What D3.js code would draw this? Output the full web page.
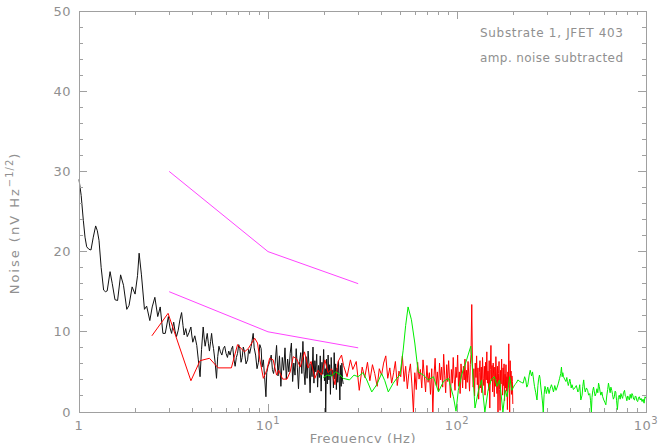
<!DOCTYPE html>
<html><head><meta charset="utf-8">
<script src="https://cdn.jsdelivr.net/npm/d3@7/dist/d3.min.js"></script>
<style>
html,body{margin:0;padding:0;background:#fff;overflow:hidden;}
svg{display:block;}
text{font-family:"DejaVu Sans",sans-serif;fill:#909090;}
</style></head>
<body>
<svg id="chart" width="658" height="443"></svg>
<script>
// ---------- data ----------
const xMajorTicks = [1, 10, 100, 1000];
const xTickExp = ["", "1", "2", "3"];
const yMajorTicks = [0, 10, 20, 30, 40, 50];

const annotation = ["Substrate 1, JFET 403", "amp. noise subtracted"];

// upper and lower reference lines (magenta)
const refUpper = [[3, 30], [10, 20], [30, 16]];
const refLower = [[3, 15], [10, 10], [30, 8]];

// black spectrum [frequency Hz, noise]
const blackData = [[1.0,29.0],[1.027,27.0],[1.054,23.9],[1.076,21.8],[1.098,20.6],[1.127,20.3],[1.157,20.2],[1.19,21.8],[1.225,23.2],[1.25,22.6],[1.276,21.4],[1.31,18.0],[1.35,15.2],[1.38,15.0],[1.41,15.1],[1.46,17.5],[1.5,16.0],[1.55,14.0],[1.60,13.9],[1.66,17.1],[1.72,15.8],[1.79,12.8],[1.84,13.3],[1.91,15.6],[1.98,14.7],[2.04,17.0],[2.08,19.8],[2.14,17.1],[2.22,12.8],[2.28,13.2],[2.37,11.4],[2.44,13.1],[2.52,14.3],[2.61,11.9],[2.69,13.1],[2.78,9.8],[2.86,9.8],
[2.97,11.9],[3.03,10.5],[3.09,9.8],[3.13,10.6],[3.17,11.2],[3.22,10.1],[3.28,9.4],[3.35,10.2],[3.42,11.5],[3.49,12.4],[3.55,10.8],[3.6,9.6],[3.67,10.4],[3.74,9.4],[3.82,9.9],[3.91,10.6],[3.95,9.6],[4.0,8.7],[4.1,9.5],[4.2,8.3],[4.28,6.5],[4.37,4.4],[4.45,7.8],[4.54,10.6],[4.6,9.1],[4.65,8.2],[4.71,9.0],[4.77,9.8],[4.84,8.5],[4.9,7.6],[4.97,8.8],[5.03,9.8],[5.09,8.6],[5.15,7.9],[5.25,6.2],[5.34,4.2],[5.42,6.9],[5.5,8.2],[5.6,7.5],[5.7,7.1],[5.8,7.9],[5.9,8.2],[6.0,7.3],[6.1,6.8],[6.2,7.6],[6.3,7.1],[6.4,7.8],[6.5,8.2],[6.6,6.6],[6.7,5.7],[6.8,6.8],[6.9,7.3],[7.0,8.4],[7.1,7.9],[7.2,6.2],[7.3,6.8],[7.4,8.1],[7.5,7.6],[7.65,6.0],[7.8,6.5],[7.9,7.8],[8.0,7.3],[8.15,8.2],[8.35,9.8],[8.45,8.0],[8.6,7.1],[8.75,5.4],[8.9,6.2],[9.05,8.4],[9.2,7.9],[9.3,5.6],[9.45,6.5],[9.6,4.3],[9.75,1.9],[9.85,4.9],[10.0,5.7],[10.2,6.2],[10.4,7.1],[10.55,5.3],[10.7,4.8],
[10.9,6.0],[11.1,8.3],[11.3,4.5],[11.5,7.0],[11.7,3.2],[11.9,6.8],[12.1,5.2],[12.3,8.0],[12.5,4.1],[12.7,6.6],[12.9,5.0],[13.1,7.3],[13.3,8.6],[13.5,3.8],[13.7,6.1],[13.9,4.6],[14.1,7.9],[14.3,5.5],[14.5,2.9],[14.7,6.3],[14.9,7.4],[15.1,4.8],[15.3,8.8],[15.5,5.1],[15.7,3.4],[15.9,6.9],[16.1,4.2],[16.3,7.6],[16.5,5.7],[16.7,2.4],[16.9,6.0],[17.1,4.4],[17.3,8.1],[17.5,3.6],[17.7,6.4],[17.9,5.0],[18.1,7.2],[18.3,3.1],[18.5,5.8],[18.7,4.3],[18.9,7.0],[19.1,2.6],[19.3,6.2],[19.5,4.7],[19.7,7.8],[19.9,3.9],[20.1,5.4],[20.2,0.0],[20.4,6.6],[20.6,3.5],[20.8,7.1],[21.0,4.0],[21.2,5.9],[21.4,2.2],[21.6,6.8],[21.8,4.5],[22.0,5.2],[22.2,3.0],[22.4,7.4],[22.6,4.1],[22.8,6.0],[23.0,2.8],[23.2,5.5],[23.4,3.7],[23.6,6.3],[23.8,4.4],[24.0,1.5],[24.2,5.8],[24.4,3.2],[24.6,6.1],[24.8,4.0],[25.0,3.5]];

// red spectrum [frequency Hz, noise]
const redData = [[2.43,9.5],[2.96,12.3],[3.91,3.9],[4.37,6.4],[4.9,6.7],[5.45,5.5],[6.4,5.5],[6.9,8.4],[7.5,7.5],[7.86,7.9],[8.5,9.2],[8.8,8.6],[9.06,6.5],[9.45,4.2],[9.85,5.2],[10.2,6.7],[10.65,6.5],[11.1,4.6],[11.4,5.2],[11.95,4.1],[12.6,4.1],[13.1,5.0],[13.6,6.9],[14.2,6.6],[14.8,5.6],[15.6,7.5],[16.3,5.5],[16.9,6.3],[17.7,4.2],[18.4,5.2],[19.2,4.6],[20.0,6.5],[20.8,4.9],[21.7,5.4],[22.6,3.4],[23.5,6.3],[24.5,7.1],[25.1,5.8],[26.2,4.4],[27.3,6.5],[28.1,5.3],[29.3,6.3],
[30.4,2.7],[31.5,5.6],[32.5,4.3],[33.6,6.2],[34.6,3.9],[35.7,5.9],[36.7,4.8],[37.8,3.2],[38.8,5.4],[39.9,4.6],[40.9,6.1],[42.0,7.0],[43.0,4.2],[44.1,5.5],[45.1,3.6],[46.2,4.9],[47.2,6.3],[48.3,3.3],[49.3,5.1],[50.4,4.4],[51.4,7.0],[52.5,3.8],[53.5,5.7],[54.6,2.9],[55.6,4.8],[56.7,6.0],[57.7,3.5],[58.8,0.0],[59.8,4.9],[60.9,2.8],[61.9,6.2],[63.0,4.1],[64.0,5.3],[65.1,3.0],[66.1,6.5],[67.2,4.4],[68.2,2.5],[69.3,5.8],[70.3,3.7],[71.4,4.9],[72.4,2.2],[73.5,5.4],[74.5,0.0],[75.6,4.6],[76.6,6.7],[77.7,3.3],[78.7,5.0],[79.8,2.6],[80.8,6.1],[81.9,4.0],[82.9,5.6],[84.0,3.1],[85.0,7.2],[86.1,4.5],[87.1,2.4],[88.2,5.9],[89.2,3.8],[90.3,6.4],[91.3,4.2],[92.4,1.8],[93.4,5.3],[94.5,3.6],[95.5,6.8],[96.6,4.1],[97.6,2.7],[98.7,5.6],[99.7,4.3],[100.8,7.1],[101.8,3.2],[102.9,5.0],[103.9,2.3],[105.0,6.0],[106.0,4.6],[107.1,3.0],[108.1,5.7],[109.2,4.0],[110.2,6.6],[111.3,2.9],[112.3,5.2],[113.4,3.7],[114.4,6.3],[115.5,4.5],[116.5,2.6],[117.6,5.9],[118.6,7.2],[119.7,13.4],[120.7,6.0],[121.8,3.1],[122.8,5.4],[123.9,2.0],[124.9,6.1],[126.0,4.3],[127.0,7.0],[128.1,3.4],[129.1,5.5],[130.2,1.6],[131.2,4.9],[132.3,6.4],[133.3,3.0],[134.4,5.6],[135.4,2.4],[136.5,6.8],[137.5,4.2],[138.6,3.3],[139.6,5.7],[140.7,2.1],[141.7,6.2],[142.8,4.0],[143.8,7.5],[144.9,3.6],[145.9,5.1],[147.0,2.7],[148.0,6.4],[149.1,0.5],[150.1,5.3],[151.2,8.3],[152.2,3.9],[153.3,5.8],[154.3,2.5],[155.4,6.1],[156.4,4.4],[157.5,1.9],[158.5,5.6],[159.6,3.2],[160.6,6.9],[161.7,4.1],[162.7,2.3],[163.8,5.7],[164.8,0.0],[165.9,4.8],[166.9,6.3],[168.0,2.8],[169.0,0.2],[170.1,5.2],[171.1,3.5],[172.2,6.6],[173.2,4.0],[174.3,2.1],[175.3,5.5],[176.4,3.3],[177.4,6.0],[178.5,1.4],[179.5,4.7],[180.6,3.0],[181.6,5.9],[182.7,2.6],[183.7,4.4],[184.8,0.3],[185.8,5.0],[186.9,3.1],[187.9,8.5],[189.0,2.9],[190.0,0.0],[191.1,6.4],[192.1,3.6],[193.2,5.1],[194.2,2.2],[195.3,4.5],[196.3,3.8],[197.4,1.0]];

// green spectrum [frequency Hz, noise]
const greenData = [[19.6,4.3],[20.6,4.6],[21.7,4.5],[22.8,5.0],[23.9,4.7],[25.0,4.2],[27.0,4.0],[28.5,4.6],[30.0,4.4],[31.8,4.9],[33.3,4.0],[35.4,2.5],[37.6,3.4],[39.9,4.8],[41.5,3.9],[43.3,2.5],[46.0,3.6],[48.0,4.2],[49.9,4.6],[51.9,7.7],[53.5,10.8],[55.1,13.1],[57.4,11.5],[59.8,8.6],[62.3,5.0],[66.3,4.6],[70.5,4.0],[75.0,4.4],[79.8,2.5],[84.7,3.8],[90.0,4.2],[95.7,1.9],[98.8,0.1],[101.6,2.7],[105.7,4.6],[112.4,6.5],[118.3,8.2],[121.9,4.0],[124.5,0.5],[130.0,2.7],[134.9,4.0],[140.4,0.0],[146.0,2.7],[151.5,4.0],[157.6,4.4],[163,3.2],[168,4.0],[175,0.0],[180,2.7],[184,1.9],[190,4.4],[195,2.7],[198,3.0],[202,3.4],[206,3.6],
[210,4.0],[215,3.8],[219,3.7],[224,3.6],[228,4.4],[231,4.0],[234,3.1],[237,3.4],[241,4.6],[244,5.2],[248,4.5],[251,5.0],[254,4.1],[257,3.2],[261,2.4],[265,1.5],[268,3.3],[270,4.0],[273,4.6],[275,4.2],[278,3.0],[281,2.1],[284,1.0],[286,0.0],[289,2.2],[292,3.2],[295,2.8],[297,2.3],[302,3.1],[307,2.3],[311,2.9],[316,3.4],[320,3.0],[324,2.5],[329,3.3],[334,2.7],[339,3.1],[344,3.6],[349,4.2],[354,4.8],[357,5.6],[360,4.4],[363,4.9],[366,4.4],[371,4.1],[377,3.8],[381,4.3],[384,3.8],[388,3.3],[391,3.6],[395,4.1],[398,3.8],[402,3.0],[406,3.4],[413,2.8],[420,3.0],[428,3.3],[436,2.5],[441,2.7],[446,3.4],[452,1.5],[459,2.1],[463,3.2],[468,4.0],[472,3.1],[477,2.5],[484,3.0],[491,2.7],[497,2.1],[504,2.3],[509,1.4],[514,0.0],[518,1.8],[523,2.7],[528,3.1],[533,2.5],[538,2.0],[544,2.3],[550,2.9],[556,2.4],[561,3.6],[566,3.2],[571,2.6],[577,2.1],[584,2.5],[590,1.9],[598,1.5],[606,1.2],[613,0.9],[620,2.0],[627,2.8],[633,3.6],[639,3.0],[646,2.4],[652,3.1],[659,2.7],[665,2.2],[672,1.6],[680,1.9],[686,2.6],[692,2.5],[699,1.4],[706,0.3],[714,1.8],[722,2.1],[730,1.6],[737,2.3],[745,1.9],[752,1.7],[760,2.4],[770,2.7],[777,2.0],[784,1.9],[792,1.4],[800,2.0],[808,1.8],[816,1.5],[825,2.2],[834,1.7],[843,2.3],[851,2.1],[860,1.6],[869,1.5],[878,2.0],[886,1.9],[895,1.4],[904,1.3],[913,1.8],[922,1.9],[932,1.5],[942,1.7],[953,1.3],[965,1.6],[977,1.1],[988,1.9],[1000,1.7]];

// ---------- layout ----------
const svg = d3.select("#chart");
const L = 79, R = 646, T = 11, B = 412;
const x = d3.scaleLog().domain([1, 1000]).range([L, R]);
const y = d3.scaleLinear().domain([0, 50]).range([B, T]);
const axisColor = "#a0a0a0";

const line = d3.line().x(d => x(d[0])).y(d => y(d[1]));

const plot = svg.append("g");
plot.append("path").datum(blackData).attr("d", line)
  .attr("fill", "none").attr("stroke", "#111").attr("stroke-width", 1);
plot.append("path").datum(redData).attr("d", line)
  .attr("fill", "none").attr("stroke", "#ff0000").attr("stroke-width", 1);
plot.append("path").datum(greenData).attr("d", line)
  .attr("fill", "none").attr("stroke", "#00ee00").attr("stroke-width", 1);
[refUpper, refLower].forEach(d => {
  plot.append("path").datum(d).attr("d", line)
    .attr("fill", "none").attr("stroke", "#ff44ff").attr("stroke-width", 1);
});

// ---------- frame & ticks ----------
const ax = svg.append("g").attr("stroke", axisColor).attr("stroke-width", 1).attr("shape-rendering", "crispEdges");
ax.append("rect").attr("x", L).attr("y", T).attr("width", R - L).attr("height", B - T).attr("fill", "none");

const xMinor = [];
for (let d = 0; d < 3; d++) for (let k = 2; k <= 9; k++) xMinor.push(k * xMajorTicks[d]);
xMajorTicks.forEach(v => {
  ax.append("line").attr("x1", x(v)).attr("x2", x(v)).attr("y1", B).attr("y2", B - 8);
  ax.append("line").attr("x1", x(v)).attr("x2", x(v)).attr("y1", T).attr("y2", T + 8);
});
xMinor.forEach(v => {
  ax.append("line").attr("x1", x(v)).attr("x2", x(v)).attr("y1", B).attr("y2", B - 4);
  ax.append("line").attr("x1", x(v)).attr("x2", x(v)).attr("y1", T).attr("y2", T + 4);
});
const yMinor = d3.range(0, 51, 2).filter(v => v % 10 !== 0);
yMajorTicks.forEach(v => {
  ax.append("line").attr("x1", L).attr("x2", L + 8).attr("y1", y(v)).attr("y2", y(v));
  ax.append("line").attr("x1", R).attr("x2", R - 8).attr("y1", y(v)).attr("y2", y(v));
});
yMinor.forEach(v => {
  ax.append("line").attr("x1", L).attr("x2", L + 4).attr("y1", y(v)).attr("y2", y(v));
  ax.append("line").attr("x1", R).attr("x2", R - 4).attr("y1", y(v)).attr("y2", y(v));
});

// ---------- labels ----------
yMajorTicks.forEach(v => {
  svg.append("text").attr("x", 71).attr("y", y(v) + 4.5).attr("text-anchor", "end")
    .attr("font-size", 13).attr("letter-spacing", 0.5).text(v);
});
xMajorTicks.forEach((v, i) => {
  const t = svg.append("text").attr("x", x(v)).attr("y", 430).attr("text-anchor", "middle")
    .attr("font-size", 13).attr("letter-spacing", 0.5);
  if (xTickExp[i] === "") { t.text(String(v)); }
  else {
    t.append("tspan").text("10");
    t.append("tspan").attr("dy", -6).attr("font-size", 10).text(xTickExp[i]);
  }
});
svg.append("text").attr("x", 363).attr("y", 443).attr("text-anchor", "middle")
  .attr("font-size", 13).attr("letter-spacing", 0.6).text("Frequency (Hz)");

const yl = svg.append("text").attr("transform", "translate(19,223) rotate(-90)")
  .attr("text-anchor", "middle").attr("font-size", 13).attr("letter-spacing", 2);
yl.append("tspan").text("Noise (nV Hz");
yl.append("tspan").attr("dy", -6).attr("font-size", 10).attr("letter-spacing", 1).text("\u22121/2");
yl.append("tspan").attr("dy", 6).text(")");

annotation.forEach((s, i) => {
  svg.append("text").attr("x", 623).attr("y", 37 + i * 25).attr("text-anchor", "end")
    .attr("font-size", 12).attr("textLength", 143).attr("lengthAdjust", "spacing").text(s);
});
</script>
</body></html>
